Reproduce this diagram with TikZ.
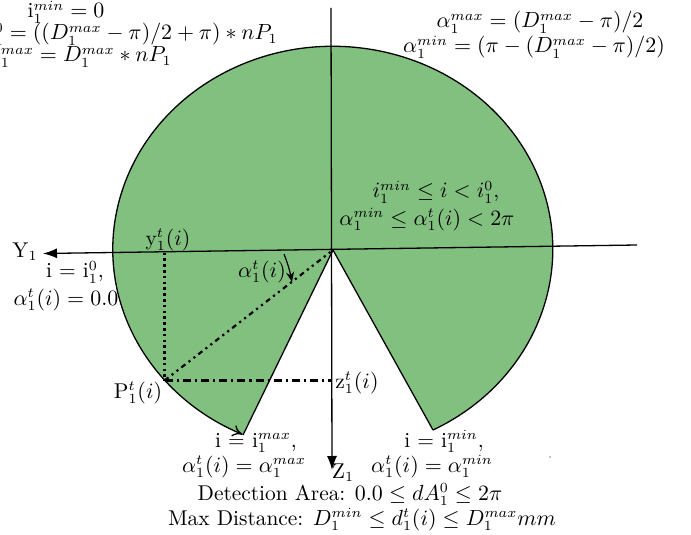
\documentclass[tikz,border=0pt]{standalone}
\usetikzlibrary{arrows.meta}
\definecolor{pie}{RGB}{130,192,128}
\begin{document}
\begin{tikzpicture}[x=0.5pt,y=-0.5pt,
  lbl/.style={inner sep=0pt,anchor=base,font=\fontsize{10.7}{13}\selectfont},
  axis/.style={line width=0.65pt,-{Latex[length=7pt,width=5pt]}},
  edge/.style={line width=0.65pt},
  dotln/.style={line width=1.3pt,dash pattern=on 1.3pt off 1.6pt},
  dashdot/.style={line width=1.1pt,dash pattern=on 4pt off 2pt on 1.1pt off 2pt},
  dashdotdot/.style={line width=1.1pt,dash pattern=on 2.5pt off 2pt on 1.1pt off 2pt on 1.1pt off 2pt}]
\useasboundingbox (0,0) rectangle (691,535);
% key points
\coordinate (C) at (333,250);
\coordinate (R) at (433,430);
\coordinate (L) at (243,435);
\coordinate (P) at (164.5,380.5);
\coordinate (yt) at (164.5,252.5);
\coordinate (zt) at (331,380.5);
\coordinate (Yend) at (43,253.5);
\coordinate (Ystart) at (637,245);
\coordinate (Ztop) at (331,8);
\coordinate (Zend) at (332,470);
\coordinate (a1) at (284,254);
\coordinate (a2) at (292,282);
% pie
\fill[pie] (C) -- (R) arc[start angle=62.9,end angle=-245.8,x radius=220,y radius=203] -- cycle;
\draw[edge] (L) -- (C) -- (R);
\draw[edge,-{To[length=5pt,width=6pt]}] (R) arc[start angle=62.9,end angle=-245.8,x radius=220,y radius=203];
% axes
\draw[axis] (Ystart) -- (Yend);
\draw[axis] (Ztop) -- (Zend);
% projections
\draw[dotln] (yt) -- (P);
\draw[dashdot] (P) -- (zt);
\draw[dashdotdot] (P) -- (C);
\draw[line width=0.6pt,-{Stealth[length=5pt,width=4pt]}] (a1) to[bend left=5] (a2);
% labels
\node[lbl] (t1) at (66,18) {i$_1^{min}=0$};
\node[lbl,anchor=base east] (t2) at (278,40) {i$_1^0=((D_1^{max}-\pi)/2+\pi)*nP_1$};
\node[lbl,anchor=base east] (t3) at (172,62) {i$_1^{max}=D_1^{max}*nP_1$};
\node[lbl] (r1) at (540,28) {$\alpha_1^{max}=(D_1^{max}-\pi)/2$};
\node[lbl] (r2) at (534,53) {$\alpha_1^{min}=(\pi-(D_1^{max}-\pi)/2)$};
\node[lbl] (m1) at (436,198) {$i_1^{min}\leq i<i_1^0$,};
\node[lbl] (m2) at (427,225) {$\alpha_1^{min}\leq\alpha_1^t(i)<2\pi$};
\node[lbl] (Y) at (25,257) {Y$_1$};
\node[lbl] (l1) at (75,278) {i = i$_1^0$,};
\node[lbl] (l2) at (66,305) {$\alpha_1^t(i)=0.0$};
\node[lbl] (ylab) at (168,245) {y$_1^t(i)$};
\node[lbl] (alab) at (262,277) {$\alpha_1^t(i)$};
\node[lbl] (plab) at (138,398) {P$_1^t(i)$};
\node[lbl] (zlab) at (357,388) {z$_1^t(i)$};
\node[lbl] (b1) at (256,447) {i = i$_1^{max}$,};
\node[lbl] (b2) at (244,472) {$\alpha_1^t(i)=\alpha_1^{max}$};
\node[lbl] (Z) at (343,478) {Z$_1$};
\node[lbl] (c1) at (444,447) {i = i$_1^{min}$,};
\node[lbl] (c2) at (432,472) {$\alpha_1^t(i)=\alpha_1^{min}$};
\node[lbl] (d1) at (350,500) {Detection Area: $0.0\leq dA_1^0\leq 2\pi$};
\node[lbl] (d2) at (362,525) {Max Distance: $D_1^{min}\leq d_1^t(i)\leq D_1^{max}mm$};
\fill (550,457) circle (0.6);
\end{tikzpicture}
\end{document}
